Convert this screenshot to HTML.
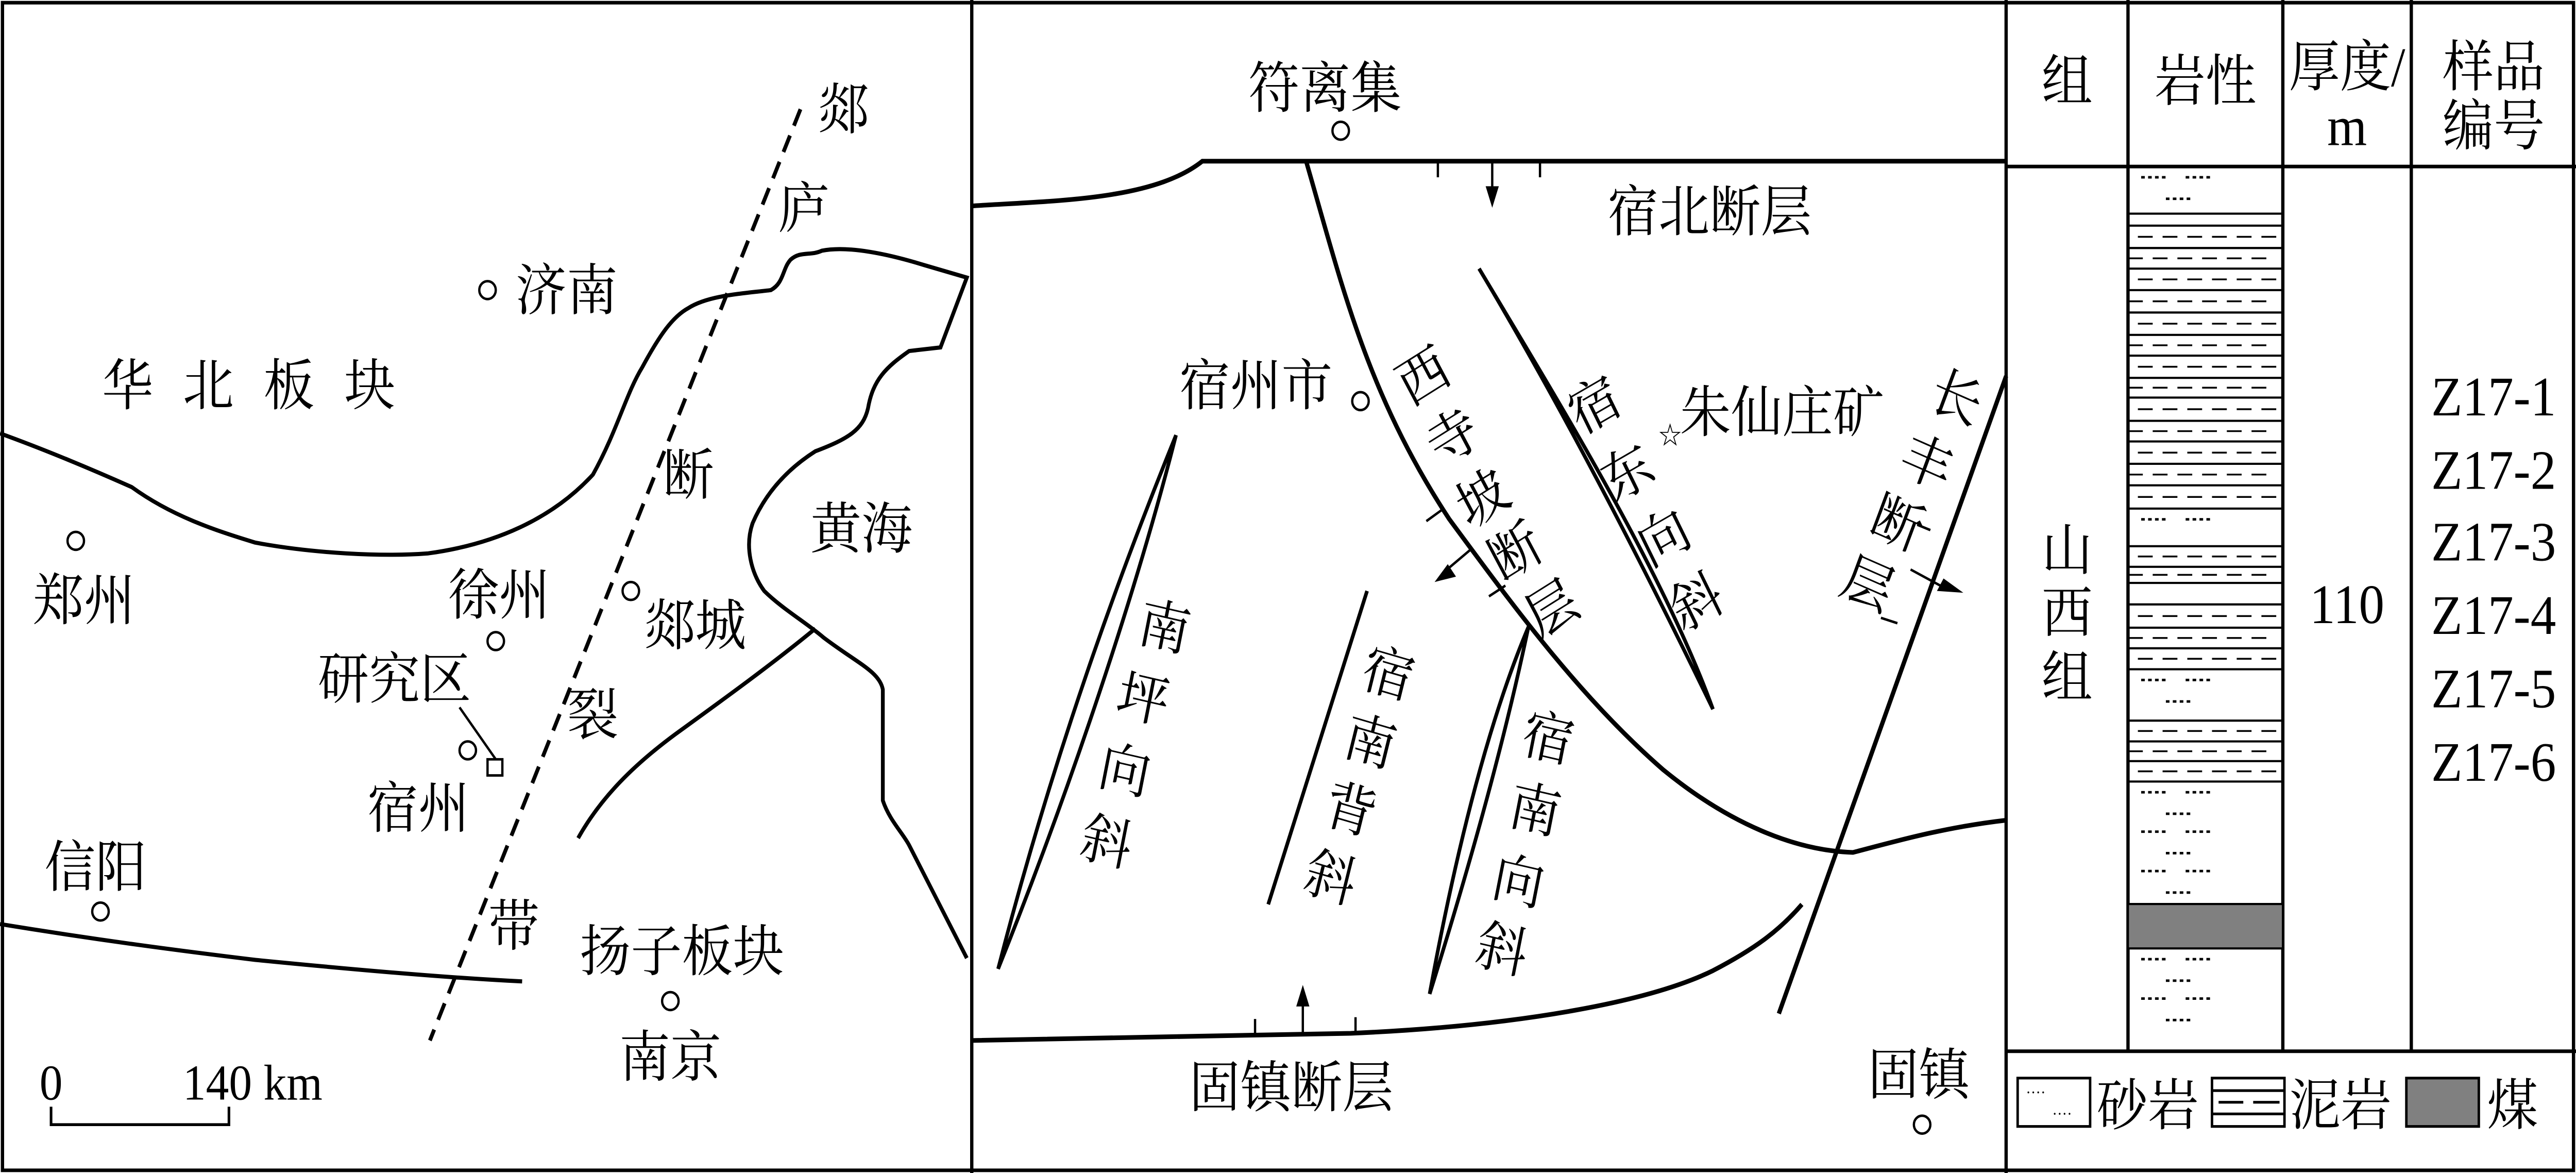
<!DOCTYPE html>
<html><head><meta charset="utf-8"><style>
html,body{margin:0;padding:0;background:#fff;overflow:hidden;width:100%;height:100%;}
svg{display:block;position:fixed;left:0;top:0;width:100vw;height:100vh;}
text{font-family:"Liberation Serif","Noto Serif CJK SC","Noto Sans CJK SC",serif;fill:#000;}
</style></head><body>
<svg id="s" viewBox="0 0 1564 655" preserveAspectRatio="none" xmlns="http://www.w3.org/2000/svg">
<rect x="1.5" y="1.5" width="1561" height="652" fill="#fff" stroke="#000" stroke-width="2"/>
<line x1="590" y1="0" x2="590" y2="655" stroke="#000" stroke-width="2"/>
<line x1="1218" y1="0" x2="1218" y2="655" stroke="#000" stroke-width="2"/>

<!-- LEFT PANEL -->
<g fill="none" stroke="#000" stroke-width="2.3">
<path d="M0,242 C30,252 58,263 80,272 C104,288 130,296 155,303 C190,309 232,311 260,309 C300,304 335,290 360,265 C375,240 380,220 390,205 C400,188 408,177 418,172 C430,165 450,164 468,162 C476,158 475,150 480,145 C486,140 492,143 499,140 C515,137 540,142 561,148 L587,155 L571,194 L552,196 C538,205 530,212 527,228 C524,240 515,245 495,252 C478,262 465,275 457,292 C452,305 456,320 464,330 C475,340 490,348 500,356 C520,370 534,375 536,385 L536,447 C540,458 548,465 552,472 L587,535"/>
<path d="M495,351 C470,370 440,390 410,410 C385,427 365,445 351,468"/>
<path d="M0,516 C60,525 110,531 155,536 C210,541 270,546 317,548"/>
<path d="M486,61 L261,581" stroke-dasharray="10,6"/>
<path d="M31,618 L31,628 L139,628 L139,618" stroke-width="1.6"/>
<path d="M279,395 L301,424" stroke-width="1.4"/>
</g>
<g fill="#fff" stroke="#000" stroke-width="1.4">
<circle cx="296" cy="162" r="5"/><circle cx="46" cy="302" r="5"/><circle cx="301" cy="358" r="5"/>
<circle cx="383" cy="330" r="5"/><circle cx="284" cy="419" r="5"/><circle cx="61" cy="509" r="5"/>
<circle cx="407" cy="559" r="5"/><rect x="296" y="424" width="9" height="9"/>
</g>
<g font-size="31">
<text x="512" y="72" text-anchor="middle">郯</text>
<text x="488" y="127" text-anchor="middle">庐</text>
<text x="418" y="276" text-anchor="middle">断</text>
<text x="360" y="410" text-anchor="middle">裂</text>
<text x="312" y="528" text-anchor="middle">带</text>
<text x="313" y="173">济南</text>
<text x="62" y="226" letter-spacing="18">华北板块</text>
<text x="20" y="346">郑州</text>
<text x="272" y="343">徐州</text>
<text x="391" y="360">郯城</text>
<text x="492" y="306">黄海</text>
<text x="193" y="390">研究区</text>
<text x="223" y="462">宿州</text>
<text x="27" y="495">信阳</text>
<text x="352" y="542">扬子板块</text>
<text x="376" y="601">南京</text>
<text x="24" y="614" font-size="28">0</text>
<text x="111" y="614" font-size="28">140 km</text>
</g>

<!-- MIDDLE PANEL -->
<g fill="none" stroke="#000" stroke-width="2.6">
<path d="M590,115 C640,112 700,112 730,90 L1218,90"/>
<path d="M590,581 L820,577 C920,573 1000,560 1040,542 C1065,530 1080,520 1094,505"/>
<path d="M793,90 C815,160 830,220 880,290 C920,340 960,390 1010,430 C1050,460 1090,475 1125,476 C1150,470 1180,462 1218,458"/>
<path d="M1080,566 L1218,210"/>
<path d="M606,541 C640,420 680,320 714,243 C690,330 650,440 606,541 Z" stroke-width="2.2"/>
<path d="M770,505 L830,330" stroke-width="2.2"/>
<path d="M868,555 C885,470 905,400 928,350 C912,420 890,490 868,555 Z" stroke-width="2.2"/>
<path d="M898,150 C950,230 1000,320 1040,396 C1010,320 950,230 898,150 Z" stroke-width="2.2"/>
</g>
<g stroke="#000" stroke-width="1.4" fill="none">
<line x1="873" y1="90" x2="873" y2="99"/><line x1="935" y1="90" x2="935" y2="99"/>
<line x1="906" y1="90" x2="906" y2="108"/>
<line x1="762" y1="578" x2="762" y2="569"/><line x1="823" y1="577" x2="823" y2="568"/>
<line x1="791" y1="578" x2="791" y2="558"/>
<line x1="875" y1="285" x2="866" y2="291"/><line x1="914" y1="327" x2="904" y2="333"/>
<line x1="894" y1="306" x2="876" y2="320"/>
<line x1="1164" y1="293" x2="1172" y2="296"/><line x1="1142" y1="345" x2="1152" y2="348"/>
<line x1="1160" y1="318" x2="1180" y2="328"/>
</g>
<g fill="#000">
<polygon points="902,104 910,104 906,116"/>
<polygon points="787,562 795,562 791,550"/>
<polygon points="879,315 884,322 871,325"/>
<polygon points="1176,330 1180,323 1192,331"/>
</g>
<g fill="#fff" stroke="#000" stroke-width="1.4">
<circle cx="814" cy="73" r="5"/><circle cx="826" cy="224" r="5"/><circle cx="1167" cy="628" r="5"/>
</g>
<g font-size="31">
<text x="758" y="60">符离集</text>
<text x="976" y="129">宿北断层</text>
<text x="716" y="226">宿州市</text>
<text x="1020" y="241">朱仙庄矿</text>
<text x="722" y="618">固镇断层</text>
<text x="1134" y="611">固镇</text>
<text x="1007" y="248" font-size="14">☆</text>
</g>
<g font-size="31" text-anchor="middle">
<text transform="translate(864,210) rotate(-30)" y="11">西</text>
<text transform="translate(882,244) rotate(-30)" y="11">寺</text>
<text transform="translate(900,278) rotate(-30)" y="11">坡</text>
<text transform="translate(920,308) rotate(-30)" y="11">断</text>
<text transform="translate(942,340) rotate(-30)" y="11">层</text>
<text transform="translate(968,226) rotate(-28)" y="11">宿</text>
<text transform="translate(988,264) rotate(-28)" y="11">东</text>
<text transform="translate(1010,300) rotate(-28)" y="11">向</text>
<text transform="translate(1030,336) rotate(-28)" y="11">斜</text>
<text transform="translate(1188,222) rotate(22)" y="11">长</text>
<text transform="translate(1170,258) rotate(22)" y="11">丰</text>
<text transform="translate(1152,292) rotate(22)" y="11">断</text>
<text transform="translate(1134,326) rotate(22)" y="11">层</text>
<text transform="translate(707,350) rotate(12)" y="11">南</text>
<text transform="translate(694,390) rotate(12)" y="11">坪</text>
<text transform="translate(683,430) rotate(12)" y="11">向</text>
<text transform="translate(672,470) rotate(12)" y="11">斜</text>
<text transform="translate(843,376) rotate(15)" y="11">宿</text>
<text transform="translate(832,414) rotate(15)" y="11">南</text>
<text transform="translate(820,452) rotate(15)" y="11">背</text>
<text transform="translate(808,490) rotate(15)" y="11">斜</text>
<text transform="translate(940,412) rotate(12)" y="11">宿</text>
<text transform="translate(932,452) rotate(12)" y="11">南</text>
<text transform="translate(922,492) rotate(12)" y="11">向</text>
<text transform="translate(912,530) rotate(12)" y="11">斜</text>
</g>

<!-- RIGHT PANEL -->
<g stroke="#000" stroke-width="2">
<line x1="1218" y1="93" x2="1564" y2="93"/>
<line x1="1218" y1="587" x2="1564" y2="587"/>
<line x1="1292" y1="0" x2="1292" y2="587"/>
<line x1="1386" y1="0" x2="1386" y2="587"/>
<line x1="1464" y1="0" x2="1464" y2="587"/>
</g>
<g id="col"></g>
<g font-size="31" text-anchor="middle">
<text x="1255" y="56">组</text>
<text x="1339" y="56">岩性</text>
<text x="1425" y="48">厚度/</text>
<text x="1425" y="81">m</text>
<text x="1514" y="48">样品</text>
<text x="1514" y="81">编号</text>
<text x="1255" y="318">山</text>
<text x="1255" y="353">西</text>
<text x="1255" y="389">组</text>
<text x="1425" y="348">110</text>
<text x="1514" y="232">Z17-1</text>
<text x="1514" y="273">Z17-2</text>
<text x="1514" y="313">Z17-3</text>
<text x="1514" y="354">Z17-4</text>
<text x="1514" y="395">Z17-5</text>
<text x="1514" y="436">Z17-6</text>
</g>
<g stroke="#000" stroke-width="1.5">
<rect x="1225" y="602" width="44" height="27" fill="#fff"/>
<rect x="1343" y="602" width="44" height="27" fill="#fff"/>
<rect x="1461" y="602" width="44" height="27" fill="#808080"/>
<line x1="1343" y1="609" x2="1387" y2="609"/><line x1="1343" y1="622" x2="1387" y2="622"/>
<line x1="1347" y1="615.5" x2="1362" y2="615.5"/><line x1="1368" y1="615.5" x2="1384" y2="615.5"/>
</g>
<g fill="#000">
<text x="1230" y="613" font-size="9">····</text><text x="1246" y="625" font-size="9">····</text>
</g>
<g font-size="31">
<text x="1273" y="628">砂岩</text>
<text x="1390" y="628">泥岩</text>
<text x="1510" y="628">煤</text>
</g>
</svg>
<script>
(function(){
var g=document.getElementById('col'),NS='http://www.w3.org/2000/svg';
var L=1292,R=1386;
function el(n,a){var e=document.createElementNS(NS,n);for(var k in a)e.setAttribute(k,a[k]);g.appendChild(e);return e;}
function hl(y,w){el('line',{x1:L,y1:y,x2:R,y2:y,stroke:'#000','stroke-width':w||1.2});}
function dots(y0,y1){var y=y0+6,r=0;while(y<y1-3){var xs=(r%2==0)?[1300,1327]:[1315];for(var i=0;i<xs.length;i++)for(var j=0;j<4;j++)el('rect',{x:xs[i]+j*4.2,y:y-0.7,width:2.2,height:1.4,fill:'#000'});y+=(r%2==0)?12:10;r++;}}
function mud(lines){for(var i=0;i<lines.length;i++){hl(lines[i]);if(i<lines.length-1){var y=(lines[i]+lines[i+1])/2,off=(i%2==0)?6:0;for(var x=L+off;x<R-4;x+=15)el('line',{x1:x,y1:y,x2:Math.min(x+9,R),y2:y,stroke:'#000','stroke-width':1});}}}
dots(93,119);
hl(119.3);
mud([126,138.5,150,162,174.5,187,198.6,211,222,235,246.5,259,271,284]);
dots(284,305);
mud([305,316.5,325.5]);
mud([337.5,350.5,362,373.7]);
dots(373.7,402.4);
mud([402.4,414,425,436.4]);
dots(436.4,504.8);
el('rect',{x:L,y:504.8,width:R-L,height:24.8,fill:'#808080',stroke:'#000','stroke-width':1.2});
dots(529.6,582);
})();
</script>
</body></html>
